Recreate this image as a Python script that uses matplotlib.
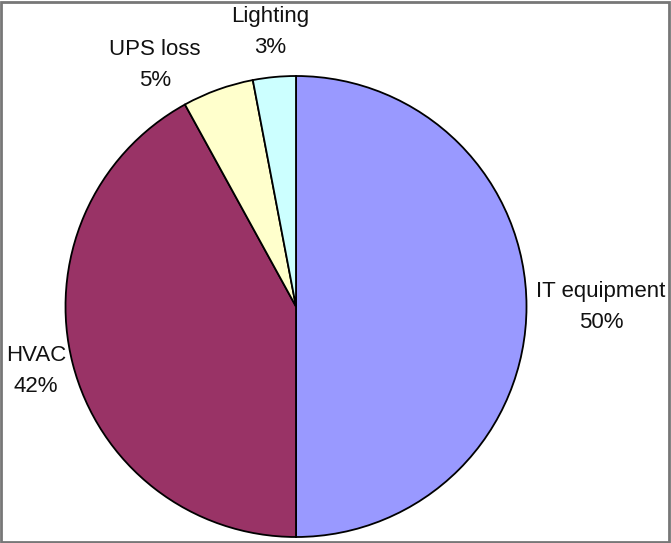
import matplotlib.pyplot as plt
from matplotlib.patches import Rectangle

plt.rcParams['font.family'] = ['Liberation Sans', 'DejaVu Sans']

categories = ['IT equipment', 'HVAC', 'UPS loss', 'Lighting']
shares = [50, 42, 5, 3]
colors = ['#9999FF', '#993366', '#FFFFCC', '#CCFFFF']

# label centre positions in pixels (x, y from top)
label_pos = [(601, 307), (36, 371), (155, 65), (270, 32)]

W, H = 671, 543
fig = plt.figure(figsize=(W / 100, H / 100), dpi=100)
ax = fig.add_axes([0, 0, 1, 1])

cx, cy, r = 296, 306.5, 230.5
# y axis runs downwards, so startangle -90 is the top and counterclock draws clockwise
ax.pie(shares, colors=colors, startangle=-90, counterclock=True,
       center=(cx, cy), radius=r, frame=True,
       wedgeprops={'edgecolor': 'black', 'linewidth': 1.3})
ax.set_xlim(0, W)
ax.set_ylim(H, 0)
ax.set_aspect('equal')
ax.axis('off')

for name, val, (x, y) in zip(categories, shares, label_pos):
    ax.text(x, y, f'{name}\n{val}%', ha='center', va='center',
            multialignment='center', fontsize=16, linespacing=1.62,
            color='#111111')

fig.patches.append(Rectangle((0.002, 0.002), 0.995, 0.995, transform=fig.transFigure,
                             fill=False, edgecolor='#777777', linewidth=2))

fig.savefig('out.png', dpi=100)
